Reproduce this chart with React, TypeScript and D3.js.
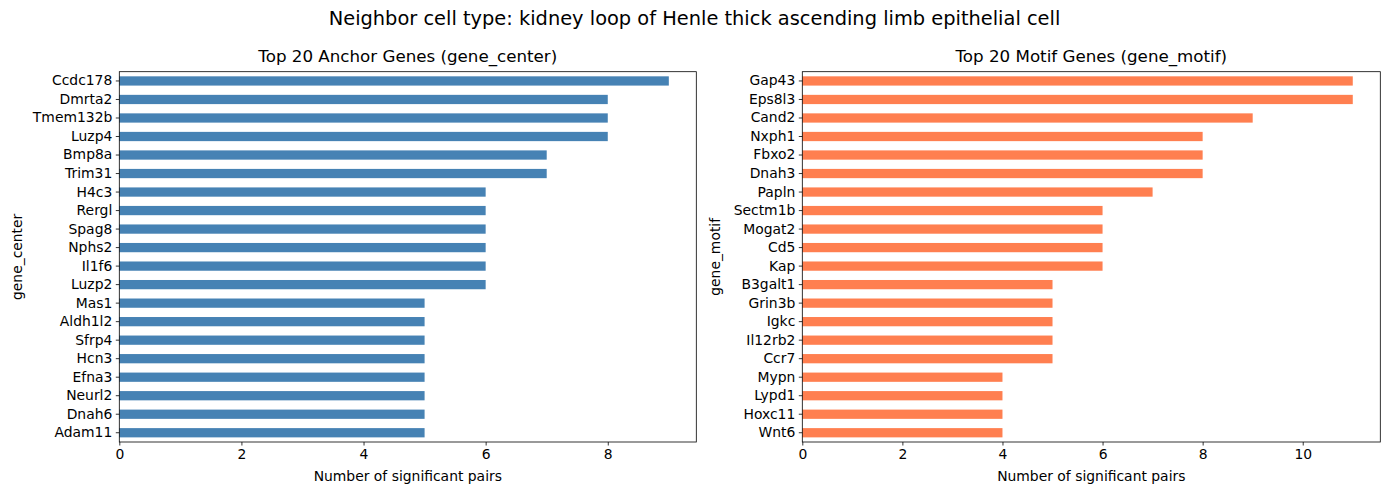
import * as d3 from 'd3'
import React, { useEffect, useRef } from 'react'

const anchorGenes = ['Ccdc178', 'Dmrta2', 'Tmem132b', 'Luzp4', 'Bmp8a', 'Trim31', 'H4c3', 'Rergl', 'Spag8', 'Nphs2', 'Il1f6', 'Luzp2', 'Mas1', 'Aldh1l2', 'Sfrp4', 'Hcn3', 'Efna3', 'Neurl2', 'Dnah6', 'Adam11']
const anchorCounts = [9, 8, 8, 8, 7, 7, 6, 6, 6, 6, 6, 6, 5, 5, 5, 5, 5, 5, 5, 5]
const motifGenes = ['Gap43', 'Eps8l3', 'Cand2', 'Nxph1', 'Fbxo2', 'Dnah3', 'Papln', 'Sectm1b', 'Mogat2', 'Cd5', 'Kap', 'B3galt1', 'Grin3b', 'Igkc', 'Il12rb2', 'Ccr7', 'Mypn', 'Lypd1', 'Hoxc11', 'Wnt6']
const motifCounts = [11, 11, 9, 8, 8, 8, 7, 6, 6, 6, 6, 5, 5, 5, 5, 5, 4, 4, 4, 4]
const xTicksLeft = [0, 2, 4, 6, 8]
const xTicksRight = [0, 2, 4, 6, 8, 10]

const width = 1389
const height = 495
const font = 'DejaVu Sans, sans-serif'

const panels = [
  { title: 'Top 20 Anchor Genes (gene_center)', ylabel: 'gene_center', genes: anchorGenes, counts: anchorCounts, ticks: xTicksLeft, color: '#4682b4', left: 119.3, right: 696.3, labelGap: 97 },
  { title: 'Top 20 Motif Genes (gene_motif)', ylabel: 'gene_motif', genes: motifGenes, counts: motifCounts, ticks: xTicksRight, color: '#ff7f50', left: 802.3, right: 1380.3, labelGap: 82 },
]

const App: React.FC = () => {
  const ref = useRef<SVGSVGElement>(null)

  useEffect(() => {
    const svg = d3.select(ref.current)
    svg.selectAll('*').remove()
    const top = 71.7
    const bottom = 442

    svg
      .append('text')
      .attr('x', width / 2)
      .attr('y', 25)
      .attr('text-anchor', 'middle')
      .style('font-size', '19.4px')
      .text('Neighbor cell type: kidney loop of Henle thick ascending limb epithelial cell')

    panels.forEach((p) => {
      const maxV = d3.max(p.counts) as number
      const x = d3.scaleLinear().domain([0, maxV * 1.05]).range([p.left, p.right])
      const y = d3.scaleBand<string>().domain(p.genes).range([top, bottom]).paddingInner(0.5).paddingOuter(0.25)

      const g = svg.append('g')

      g.selectAll('.bar')
        .data(p.genes)
        .enter()
        .append('rect')
        .attr('x', x(0))
        .attr('y', (d) => y(d) as number)
        .attr('width', (d, i) => x(p.counts[i]) - x(0))
        .attr('height', y.bandwidth())
        .attr('fill', p.color)

      // y axis
      const ya = g
        .append('g')
        .attr('transform', `translate(${p.left},0)`)
        .call(d3.axisLeft(y).tickSize(3.5).tickPadding(3.5).tickSizeOuter(0))
      ya.select('.domain').remove()
      ya.selectAll('text').style('font-size', '13.9px').style('font-family', font).attr('fill', '#000')
      ya.selectAll('line').attr('stroke', '#000').attr('stroke-width', 0.8)

      // x axis
      const xa = g
        .append('g')
        .attr('transform', `translate(0,${bottom})`)
        .call(d3.axisBottom(x).tickValues(p.ticks).tickFormat(d3.format('d')).tickSize(3.5).tickPadding(3.5).tickSizeOuter(0))
      xa.select('.domain').remove()
      xa.selectAll('text').style('font-size', '13.9px').style('font-family', font).attr('fill', '#000')
      xa.selectAll('line').attr('stroke', '#000').attr('stroke-width', 0.8)

      // frame
      g.append('rect')
        .attr('x', p.left)
        .attr('y', top)
        .attr('width', p.right - p.left)
        .attr('height', bottom - top)
        .attr('fill', 'none')
        .attr('stroke', '#000')
        .attr('stroke-width', 0.8)

      g.append('text')
        .attr('x', (p.left + p.right) / 2)
        .attr('y', 62)
        .attr('text-anchor', 'middle')
        .style('font-size', '16.7px')
        .text(p.title)

      g.append('text')
        .attr('x', (p.left + p.right) / 2)
        .attr('y', 481)
        .attr('text-anchor', 'middle')
        .style('font-size', '13.9px')
        .text('Number of significant pairs')

      g.append('text')
        .attr('transform', `translate(${p.left - p.labelGap},${(top + bottom) / 2}) rotate(-90)`)
        .attr('text-anchor', 'middle')
        .style('font-size', '13.9px')
        .text(p.ylabel)
    })
  }, [])

  return (
    <svg
      ref={ref}
      width={width}
      height={height}
      style={{ position: 'absolute', left: 0, top: 0, background: '#fff', fontFamily: font }}
    />
  )
}

export default App
